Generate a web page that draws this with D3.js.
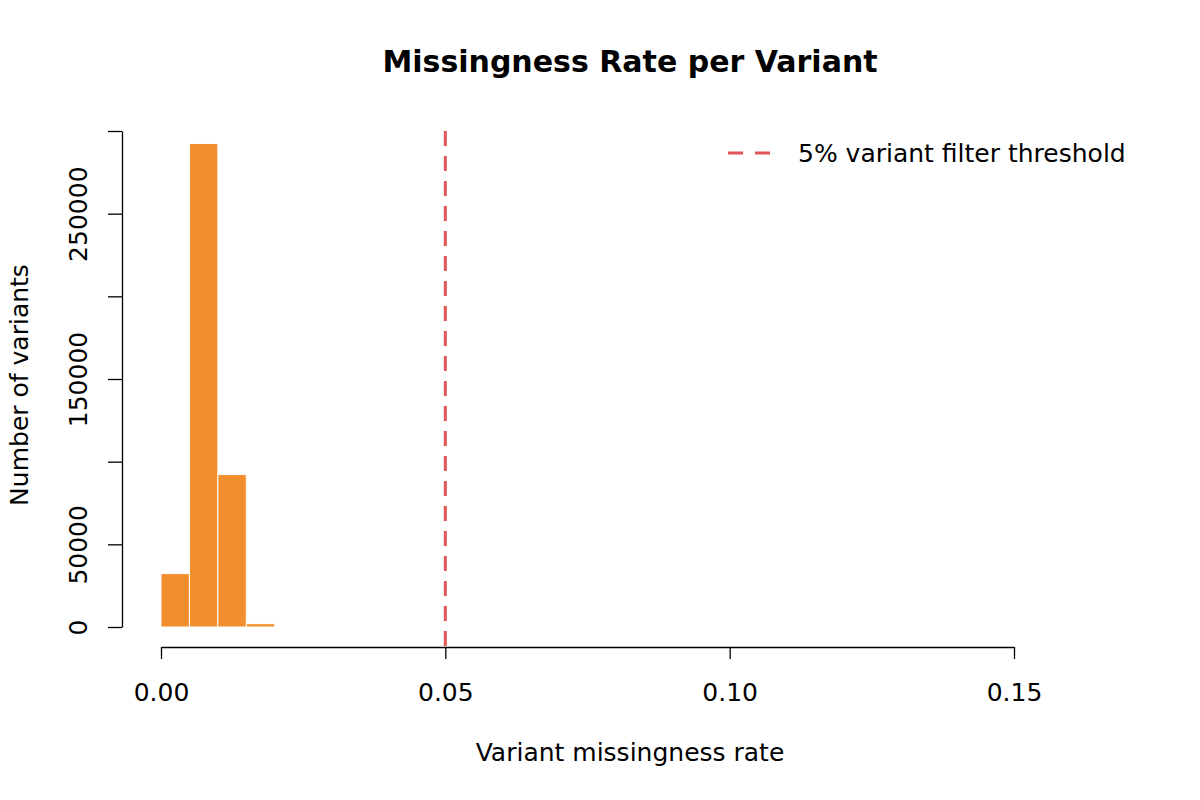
<!DOCTYPE html>
<html lang="en">
<head>
    <meta charset="UTF-8">
    <title>Missingness Rate per Variant</title>
    <script src="https://cdnjs.cloudflare.com/ajax/libs/d3/7.8.5/d3.min.js"></script>
    <style>
        body {
            margin: 0;
            background: #fff;
            font-family: "DejaVu Sans", sans-serif;
        }
        svg text {
            font-family: "DejaVu Sans", sans-serif;
        }
        .axis text {
            font-size: 25px;
            fill: #000;
        }
        .axis path, .axis line {
            stroke: #000;
            stroke-width: 1.3px;
        }
    </style>
</head>
<body>
    <div id="wrapper"></div>
    <script>
        // bins of 0.005 width (lower edges) and counts per bin
        const binStarts = [0.000, 0.005, 0.010, 0.015]
        const binCounts = [32300, 292400, 92200, 2000]
        const binWidth = 0.005

        const xTicks = [0, 0.05, 0.10, 0.15]
        const yTicks = [0, 50000, 100000, 150000, 200000, 250000, 300000]
        const yTickLabels = [0, 50000, 150000, 250000]

        const threshold = 0.05
        const legendLabel = '5% variant filter threshold'

        // 1. 尺寸
        const dimensions = {
            width: 1200,
            height: 800,
            plotLeft: 161,
            plotRight: 1014,
            plotTop: 131,
            plotBottom: 627,
            yAxisX: 122,
            xAxisY: 647,
        }

        const svg = d3.select('#wrapper')
            .append('svg')
                .attr('width', dimensions.width)
                .attr('height', dimensions.height)

        // 2. 比例尺
        const xScale = d3.scaleLinear()
            .domain([0, 0.15])
            .range([dimensions.plotLeft, dimensions.plotRight])

        const yScale = d3.scaleLinear()
            .domain([0, 300000])
            .range([dimensions.plotBottom, dimensions.plotTop])

        // 3. 柱子
        const bins = binStarts.map((x0, i) => ({ x0: x0, x1: x0 + binWidth, count: binCounts[i] }))

        svg.append('g')
            .attr('class', 'bins')
            .selectAll('rect')
            .data(bins)
            .join('rect')
                .attr('x', d => xScale(d.x0))
                .attr('y', d => yScale(d.count))
                .attr('width', d => xScale(d.x1) - xScale(d.x0))
                .attr('height', d => yScale(0) - yScale(d.count))
                .attr('fill', '#F28E2B')
                .attr('stroke', '#fff')
                .attr('stroke-width', 1)

        // 阈值线
        svg.append('line')
            .attr('x1', xScale(threshold))
            .attr('x2', xScale(threshold))
            .attr('y1', dimensions.plotTop)
            .attr('y2', dimensions.xAxisY)
            .attr('stroke', '#E15759')
            .attr('stroke-width', 3)
            .attr('stroke-dasharray', '15 10')

        // 4. 坐标轴
        const xAxis = svg.append('g')
            .attr('class', 'axis')
            .attr('transform', `translate(0,${dimensions.xAxisY})`)
            .call(d3.axisBottom(xScale)
                .tickValues(xTicks)
                .tickSize(12)
                .tickSizeOuter(0)
                .tickFormat(d3.format('.2f')))
        xAxis.selectAll('text')
            .attr('y', 45)
            .attr('dy', '0.35em')

        const yAxis = svg.append('g')
            .attr('class', 'axis')
            .attr('transform', `translate(${dimensions.yAxisX},0)`)
            .call(d3.axisLeft(yScale)
                .tickValues(yTicks)
                .tickSize(14)
                .tickSizeOuter(0)
                .tickFormat(d => yTickLabels.includes(d) ? d : ''))
        yAxis.selectAll('text')
            .attr('transform', 'rotate(-90)')
            .attr('x', 0)
            .attr('y', -35)
            .attr('dy', 0)
            .style('text-anchor', 'middle')

        // 标题和轴标签
        svg.append('text')
            .attr('x', 630)
            .attr('y', 72)
            .attr('text-anchor', 'middle')
            .style('font-size', '30px')
            .style('font-weight', 'bold')
            .text('Missingness Rate per Variant')

        svg.append('text')
            .attr('x', 630)
            .attr('y', 761)
            .attr('text-anchor', 'middle')
            .style('font-size', '25px')
            .text('Variant missingness rate')

        svg.append('text')
            .attr('transform', 'translate(28,385) rotate(-90)')
            .attr('text-anchor', 'middle')
            .style('font-size', '25px')
            .text('Number of variants')

        // 图例
        const legend = svg.append('g')
            .attr('transform', 'translate(728,153)')
        legend.append('line')
            .attr('x1', 0)
            .attr('x2', 42)
            .attr('stroke', '#E15759')
            .attr('stroke-width', 3)
            .attr('stroke-dasharray', '15 12')
        legend.append('text')
            .attr('x', 70)
            .attr('y', 9)
            .style('font-size', '25px')
            .text(legendLabel)
    </script>
</body>
</html>
